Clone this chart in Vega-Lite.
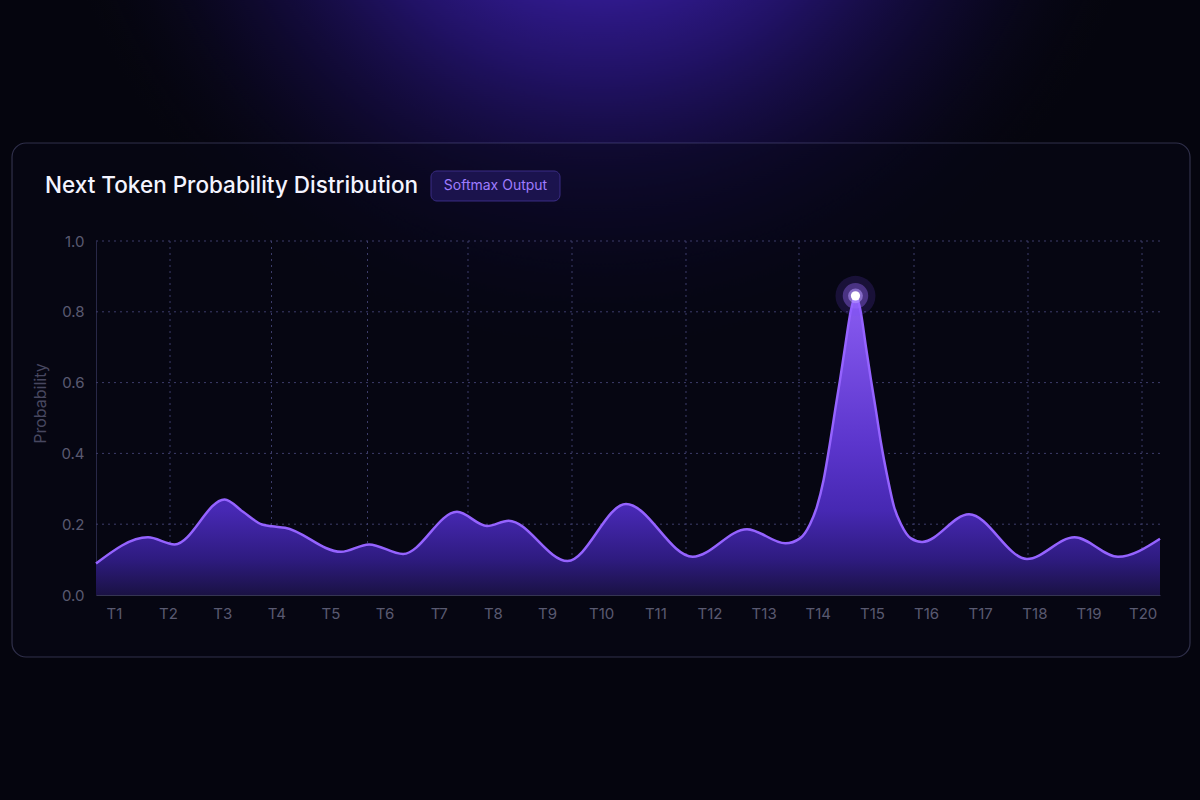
{
  "$schema": "https://vega.github.io/schema/vega-lite/v6.json",
  "width": 1064,
  "height": 354,
  "autosize": {"type": "none"},
  "padding": {"left": 96, "top": 241, "right": 40, "bottom": 205},
  "background": "#05050e",
  "config": {"view": {"stroke": null}, "font": "Inter"},
  "datasets": {
    "curve": [
      {"x": -0.33, "p": 0.089},
      {"x": 0.63, "p": 0.163},
      {"x": 1.122, "p": 0.143},
      {"x": 2.045, "p": 0.270},
      {"x": 2.385, "p": 0.235},
      {"x": 2.736, "p": 0.199},
      {"x": 2.92, "p": 0.194},
      {"x": 3.16, "p": 0.190},
      {"x": 4.195, "p": 0.122},
      {"x": 4.712, "p": 0.143},
      {"x": 5.34, "p": 0.116},
      {"x": 6.337, "p": 0.235},
      {"x": 6.891, "p": 0.195},
      {"x": 7.29, "p": 0.210},
      {"x": 8.378, "p": 0.096},
      {"x": 9.458, "p": 0.257},
      {"x": 10.69, "p": 0.108},
      {"x": 11.693, "p": 0.186},
      {"x": 12.404, "p": 0.146},
      {"x": 12.671, "p": 0.160},
      {"x": 12.856, "p": 0.200},
      {"x": 12.985, "p": 0.250},
      {"x": 13.107, "p": 0.325},
      {"x": 13.226, "p": 0.430},
      {"x": 13.318, "p": 0.520},
      {"x": 13.41, "p": 0.607},
      {"x": 13.503, "p": 0.700},
      {"x": 13.613, "p": 0.805},
      {"x": 13.696, "p": 0.845},
      {"x": 13.78, "p": 0.810},
      {"x": 13.89, "p": 0.700},
      {"x": 13.983, "p": 0.607},
      {"x": 14.075, "p": 0.520},
      {"x": 14.167, "p": 0.430},
      {"x": 14.297, "p": 0.325},
      {"x": 14.407, "p": 0.250},
      {"x": 14.537, "p": 0.200},
      {"x": 14.721, "p": 0.160},
      {"x": 14.925, "p": 0.150},
      {"x": 15.793, "p": 0.228},
      {"x": 16.864, "p": 0.102},
      {"x": 17.741, "p": 0.163},
      {"x": 18.544, "p": 0.108},
      {"x": 19.32, "p": 0.159}
    ],
    "vgrid": [
      {"gx": 1.037}, {"gx": 2.911}, {"gx": 4.684}, {"gx": 6.54}, {"gx": 8.461},
      {"gx": 10.566}, {"gx": 12.653}, {"gx": 14.777}, {"gx": 16.882}, {"gx": 18.988}
    ],
    "hgrid": [
      {"gy": 0.2}, {"gy": 0.4}, {"gy": 0.6}, {"gy": 0.8}, {"gy": 1.0}
    ],
    "labels": [{"title": "Next Token Probability Distribution", "badge": "Softmax Output"}]
  },
  "encoding": {
    "x": {
      "type": "quantitative",
      "scale": {"domain": [-0.33, 19.32], "nice": false, "zero": false},
      "axis": {
        "values": [0, 1, 2, 3, 4, 5, 6, 7, 8, 9, 10, 11, 12, 13, 14, 15, 16, 17, 18, 19],
        "labelExpr": "'T' + (datum.value + 1)",
        "grid": false, "ticks": false, "title": null,
        "domainColor": "#54547a", "labelColor": "#9090aa", "labelFontSize": 15,
        "labelPadding": 11, "labelFlush": false, "labelOverlap": false
      }
    },
    "y": {
      "type": "quantitative",
      "scale": {"domain": [0, 1], "nice": false, "zero": false},
      "axis": {
        "values": [0, 0.2, 0.4, 0.6, 0.8, 1.0],
        "format": ".1f",
        "grid": false, "ticks": false,
        "domainColor": "#3f3f66", "labelColor": "#9090aa", "labelFontSize": 15,
        "labelPadding": 12,
        "title": "Probability", "titleColor": "#72728f", "titleFontSize": 16,
        "titleFontWeight": "normal", "titlePadding": 12, "titleY": 162
      }
    }
  },
  "layer": [
    {
      "data": {"name": "labels"},
      "mark": {
        "type": "rect",
        "fill": {
          "gradient": "radial",
          "x1": 0.5, "y1": 0.0, "r1": 0,
          "x2": 0.5, "y2": 0.0, "r2": 0.46,
          "stops": [
            {"offset": 0, "color": "rgba(90,48,232,1)"},
            {"offset": 0.22, "color": "rgba(68,36,192,0.95)"},
            {"offset": 0.5, "color": "rgba(42,22,130,0.75)"},
            {"offset": 0.78, "color": "rgba(20,11,66,0.42)"},
            {"offset": 1, "color": "rgba(8,8,24,0)"}
          ]
        }
      },
      "encoding": {
        "x": {"datum": -2.103},
        "x2": {"datum": 20.059},
        "y": {"datum": 1.6808},
        "y2": {"datum": -0.5791}
      }
    },
    {
      "data": {"name": "labels"},
      "mark": {"type": "rect", "cornerRadius": 14, "fill": "#07071a", "fillOpacity": 0.4, "stroke": "rgba(140,140,200,0.32)", "strokeWidth": 1.2},
      "encoding": {
        "x": {"datum": -1.881},
        "x2": {"datum": 19.874},
        "y": {"datum": 1.2768},
        "y2": {"datum": -0.1751}
      }
    },
    {
      "data": {"name": "hgrid"},
      "mark": {"type": "rule", "stroke": "#3d3d6b", "strokeWidth": 1, "strokeDash": [2, 4]},
      "encoding": {
        "y": {"field": "gy"}
      }
    },
    {
      "data": {"name": "vgrid"},
      "mark": {"type": "rule", "stroke": "#3d3d6b", "strokeWidth": 1, "strokeDash": [2, 4]},
      "encoding": {
        "x": {"field": "gx"}
      }
    },
    {
      "data": {"name": "curve"},
      "mark": {
        "type": "area",
        "interpolate": "monotone",
        "fill": {
          "gradient": "linear",
          "x1": 0, "y1": 0, "x2": 0, "y2": 1,
          "stops": [
            {"offset": 0, "color": "#8a5cf2"},
            {"offset": 0.5, "color": "#5b35cc"},
            {"offset": 0.72, "color": "#4628b2"},
            {"offset": 0.88, "color": "#2e1b80"},
            {"offset": 1, "color": "#1a1244"}
          ]
        }
      },
      "encoding": {
        "x": {"field": "x"},
        "y": {"field": "p"}
      }
    },
    {
      "data": {"name": "curve"},
      "mark": {"type": "line", "interpolate": "monotone", "stroke": "#9563ff", "strokeWidth": 2.5},
      "encoding": {
        "x": {"field": "x"},
        "y": {"field": "p"}
      }
    },
    {
      "data": {"name": "curve"},
      "transform": [{"filter": "datum.p >= 0.84"}],
      "mark": {"type": "circle", "size": 1600, "fill": "#7c4dff", "opacity": 0.16},
      "encoding": {"x": {"field": "x"}, "y": {"field": "p"}}
    },
    {
      "data": {"name": "curve"},
      "transform": [{"filter": "datum.p >= 0.84"}],
      "mark": {"type": "circle", "size": 650, "fill": "#9a6bff", "opacity": 0.38},
      "encoding": {"x": {"field": "x"}, "y": {"field": "p"}}
    },
    {
      "data": {"name": "curve"},
      "transform": [{"filter": "datum.p >= 0.84"}],
      "mark": {"type": "circle", "size": 220, "fill": "#b89aff", "opacity": 0.55},
      "encoding": {"x": {"field": "x"}, "y": {"field": "p"}}
    },
    {
      "data": {"name": "curve"},
      "transform": [{"filter": "datum.p >= 0.84"}],
      "mark": {"type": "circle", "size": 85, "fill": "#ffffff", "opacity": 1},
      "encoding": {"x": {"field": "x"}, "y": {"field": "p"}}
    },
    {
      "data": {"name": "labels"},
      "mark": {"type": "text", "align": "left", "baseline": "alphabetic", "fontSize": 22.5, "fontWeight": 500, "color": "#f4f4ff", "font": "Inter"},
      "encoding": {
        "x": {"datum": -1.272},
        "y": {"datum": 1.1347},
        "text": {"field": "title"}
      }
    },
    {
      "data": {"name": "labels"},
      "mark": {"type": "rect", "cornerRadius": 6, "fill": "#1f1757", "fillOpacity": 0.8, "stroke": "#3b2d85", "strokeWidth": 1},
      "encoding": {
        "x": {"datum": 5.857},
        "x2": {"datum": 8.239},
        "y": {"datum": 1.1977},
        "y2": {"datum": 1.113}
      }
    },
    {
      "data": {"name": "labels"},
      "mark": {"type": "text", "align": "center", "baseline": "middle", "fontSize": 14, "fontWeight": 400, "color": "#9f7cff", "font": "Inter"},
      "encoding": {
        "x": {"datum": 7.048},
        "y": {"datum": 1.1554},
        "text": {"field": "badge"}
      }
    }
  ]
}
